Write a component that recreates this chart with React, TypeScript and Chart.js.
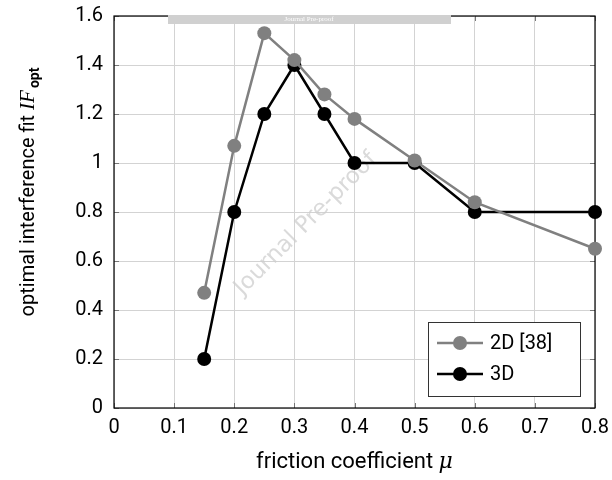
import React, { useEffect, useRef } from "react";
import { Chart, registerables } from "chart.js";

Chart.register(...registerables);

const friction = [0.15, 0.2, 0.25, 0.3, 0.35, 0.4, 0.5, 0.6, 0.8];
const fit2D = [0.47, 1.07, 1.53, 1.42, 1.28, 1.18, 1.01, 0.84, 0.65];
const fit3D = [0.2, 0.8, 1.2, 1.4, 1.2, 1.0, 1.0, 0.8, 0.8];
const seriesLabels = ["2D [38]", "3D"];
const seriesColors = ["#808080", "#000000"];
const FONT = "Roboto, 'DejaVu Sans', sans-serif";

const decorPlugin = {
  id: "decor",
  beforeDatasetsDraw(chart: any) {
    const { ctx, chartArea: a } = chart;
    ctx.save();
    // watermark
    ctx.translate(306, 224);
    ctx.rotate(-Math.PI * 0.25);
    ctx.fillStyle = "rgba(205,205,205,0.75)";
    ctx.font = `23px 'DejaVu Sans', sans-serif`;
    ctx.textAlign = "center";
    ctx.textBaseline = "middle";
    ctx.fillText("Journal Pre-proof", 0, 0);
    ctx.restore();

    ctx.save();
    // inward ticks
    ctx.strokeStyle = "#777";
    ctx.lineWidth = 1;
    const xs = chart.scales.x, ys = chart.scales.y;
    xs.ticks.forEach((t: any) => {
      const px = Math.round(xs.getPixelForValue(t.value)) + 0.5;
      ctx.beginPath();
      ctx.moveTo(px, a.bottom); ctx.lineTo(px, a.bottom - 5);
      ctx.moveTo(px, a.top); ctx.lineTo(px, a.top + 5);
      ctx.stroke();
    });
    ys.ticks.forEach((t: any) => {
      const py = Math.round(ys.getPixelForValue(t.value)) + 0.5;
      ctx.beginPath();
      ctx.moveTo(a.left, py); ctx.lineTo(a.left + 5, py);
      ctx.moveTo(a.right, py); ctx.lineTo(a.right - 5, py);
      ctx.stroke();
    });
    // frame
    ctx.strokeStyle = "#000";
    ctx.lineWidth = 1.2;
    ctx.strokeRect(a.left, a.top, a.right - a.left, a.bottom - a.top);
    ctx.restore();
  },
  afterDraw(chart: any) {
    const { ctx, chartArea: a } = chart;
    ctx.save();
    // top gray banner
    ctx.fillStyle = "#d0d0d0";
    ctx.fillRect(168, 15, 283, 9);
    ctx.fillStyle = "#ffffff";
    ctx.font = "7px 'Liberation Serif', serif";
    ctx.textAlign = "center";
    ctx.textBaseline = "middle";
    ctx.fillText("Journal Pre-proof", 309, 19.5);

    // legend
    const lx = 428, ly = 322, lw = 152, lh = 74;
    ctx.fillStyle = "#fff";
    ctx.fillRect(lx, ly, lw, lh);
    ctx.strokeStyle = "#333";
    ctx.lineWidth = 1;
    ctx.strokeRect(lx + 0.5, ly + 0.5, lw, lh);
    seriesLabels.forEach((lab, i) => {
      const y = ly + 21 + i * 31;
      ctx.strokeStyle = seriesColors[i];
      ctx.lineWidth = 2.5;
      ctx.beginPath();
      ctx.moveTo(lx + 9, y); ctx.lineTo(lx + 55, y);
      ctx.stroke();
      ctx.fillStyle = seriesColors[i];
      ctx.beginPath();
      ctx.arc(lx + 32, y, 7, 0, Math.PI * 2);
      ctx.fill();
      ctx.fillStyle = "#000";
      ctx.font = `20px ${FONT}`;
      ctx.textAlign = "left";
      ctx.textBaseline = "middle";
      ctx.fillText(lab, lx + 62, y + 1);
    });

    // x title
    ctx.fillStyle = "#000";
    ctx.textBaseline = "alphabetic";
    const xt = "friction coefficient ";
    ctx.font = `22px ${FONT}`;
    const w1 = ctx.measureText(xt).width;
    ctx.font = `italic 22px 'DejaVu Serif', serif`;
    const w2 = ctx.measureText("μ").width;
    let sx = (a.left + a.right) / 2 - (w1 + w2) / 2;
    ctx.font = `22px ${FONT}`;
    ctx.fillText(xt, sx, 468);
    ctx.font = `italic 22px 'DejaVu Serif', serif`;
    ctx.fillText("μ", sx + w1, 468);

    // y title
    ctx.translate(34, 192);
    ctx.rotate(-Math.PI / 2);
    const yt = "optimal interference fit ";
    ctx.font = `20px ${FONT}`;
    const y1 = ctx.measureText(yt).width;
    ctx.font = `italic 21px 'Liberation Serif', serif`;
    const y2 = ctx.measureText("IF").width;
    ctx.font = `bold 14px ${FONT}`;
    const y3 = ctx.measureText("opt").width;
    let s = -(y1 + y2 + y3 + 2) / 2;
    ctx.font = `20px ${FONT}`;
    ctx.fillText(yt, s, 0);
    ctx.font = `italic 21px 'Liberation Serif', serif`;
    ctx.fillText("IF", s + y1, 0);
    ctx.font = `bold 14px ${FONT}`;
    ctx.fillText("opt", s + y1 + y2 + 2, 5);
    ctx.restore();
  },
};

const fmt = (v: any) => String(Number(Number(v).toFixed(1)));

export default function App() {
  const ref = useRef<HTMLCanvasElement>(null);
  useEffect(() => {
    document.body.style.margin = "0";
    const chart = new Chart(ref.current!, {
      type: "line",
      data: {
        datasets: [fit2D, fit3D].map((vals, i) => ({
          label: seriesLabels[i],
          data: friction.map((x, j) => ({ x, y: vals[j] })),
          borderColor: seriesColors[i],
          backgroundColor: seriesColors[i],
          pointBackgroundColor: seriesColors[i],
          pointBorderWidth: 0,
          pointRadius: 7,
          borderWidth: 2.5,
          clip: false,
          tension: 0,
        })),
      },
      options: {
        animation: false,
        responsive: false,
        layout: { padding: { left: 0, right: 17, top: 16, bottom: 0 } },
        plugins: { legend: { display: false }, tooltip: { enabled: false } },
        scales: {
          x: {
            type: "linear",
            min: 0,
            max: 0.8,
            ticks: { stepSize: 0.1, color: "#000", font: { family: FONT, size: 20 }, padding: 8, callback: fmt },
            grid: { color: "#d3d3d3", lineWidth: 1, drawTicks: false },
            border: { display: false },
            afterFit: (s: any) => { s.height = 72; s.paddingLeft = 0; s.paddingRight = 0; },
          },
          y: {
            min: 0,
            max: 1.6,
            ticks: { stepSize: 0.2, color: "#000", font: { family: FONT, size: 20 }, padding: 11, callback: fmt },
            grid: { color: "#d3d3d3", lineWidth: 1, drawTicks: false },
            border: { display: false },
            afterFit: (s: any) => { s.width = 114; s.paddingTop = 0; s.paddingBottom = 0; },
          },
        },
      },
      plugins: [decorPlugin],
    } as any);
    return () => chart.destroy();
  }, []);
  return (
    <div style={{ position: "absolute", left: 0, top: 0, width: 612, height: 480 }}>
      <canvas ref={ref} width={612} height={480} style={{ width: 612, height: 480 }} />
    </div>
  );
}
